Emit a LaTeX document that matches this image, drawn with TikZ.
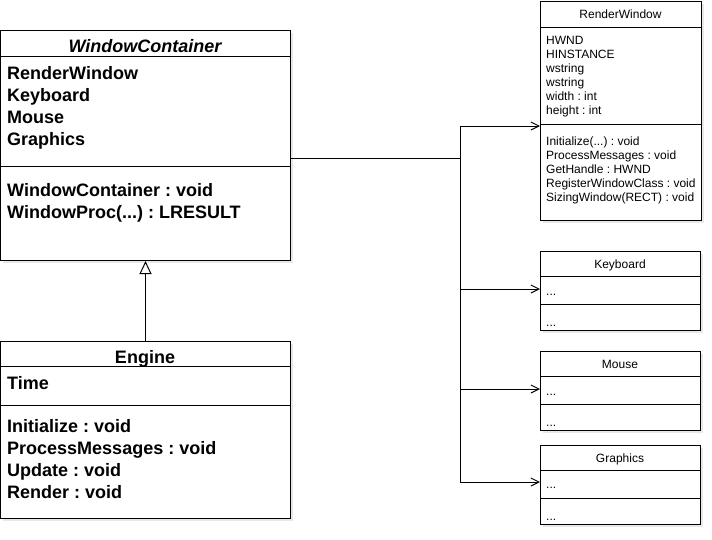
\documentclass[tikz,border=0pt]{standalone}
\usepackage{fontspec}
\setmainfont{Liberation Sans}
\usetikzlibrary{arrows.meta,shadows}
\frenchspacing
\begin{document}
\begin{tikzpicture}[x=1pt,y=-1pt,
  box/.style={draw=black, line width=1pt, fill=white, rectangle, inner sep=0pt, anchor=north west,
    drop shadow={shadow xshift=2.5pt, shadow yshift=-2.5pt, opacity=0.18, fill=gray}},
  sep/.style={draw=black, line width=1pt},
  big/.style={font=\fontsize{18}{21.6}\selectfont\bfseries, inner sep=0pt, anchor=base west},
  bighead/.style={font=\fontsize{18}{21.6}\selectfont\bfseries, inner sep=0pt, anchor=base},
  small/.style={font=\fontsize{12}{14.4}\selectfont, inner sep=0pt, anchor=base west},
  smallhead/.style={font=\fontsize{12}{14.4}\selectfont, inner sep=0pt, anchor=base},
  conn/.style={draw=black, line width=1pt, -{Straight Barb[length=8pt,width=8pt,line width=1pt]}},
  inh/.style={draw=black, line width=1pt, -{Triangle[open,length=13pt,width=12pt,fill=white,line width=1pt]}}
]
\useasboundingbox (0,0) rectangle (712,539);

% ---------- WindowContainer ----------
\node[box, minimum width=290pt, minimum height=230pt] (wc) at (0,30) {};
\draw[sep] (0,56) -- (290,56);
\draw[sep] (0,166) -- (290,166);
\node[bighead, font=\fontsize{18}{21.6}\selectfont\bfseries\itshape] (wct) at (145,52) {WindowContainer};
\node[big] (wca1) at (7,79) {RenderWindow};
\node[big] (wca2) at (7,101) {Keyboard};
\node[big] (wca3) at (7,123) {Mouse};
\node[big] (wca4) at (7,145) {Graphics};
\node[big] (wcm1) at (7,196) {WindowContainer : void};
\node[big] (wcm2) at (7,218) {WindowProc(...) : LRESULT};

% ---------- Engine ----------
\node[box, minimum width=290pt, minimum height=177pt] (eng) at (0,341) {};
\draw[sep] (0,366) -- (290,366);
\draw[sep] (0,405) -- (290,405);
\node[bighead] (engt) at (145,363) {Engine};
\node[big] (enga1) at (7,389) {Time};
\node[big] (engm1) at (7,432) {Initialize : void};
\node[big] (engm2) at (7,454) {ProcessMessages : void};
\node[big] (engm3) at (7,476) {Update : void};
\node[big] (engm4) at (7,498) {Render : void};

% ---------- RenderWindow ----------
\node[box, minimum width=161pt, minimum height=219pt] (rw) at (540,1) {};
\draw[sep] (540,27) -- (701,27);
\draw[sep] (540,124) -- (701,124);
\node[smallhead] (rwt) at (620.5,18) {RenderWindow};
\node[small] (rwa1) at (546,44) {HWND};
\node[small] (rwa2) at (546,58) {HINSTANCE};
\node[small] (rwa3) at (546,72) {wstring};
\node[small] (rwa4) at (546,86) {wstring};
\node[small] (rwa5) at (546,100) {width : int};
\node[small] (rwa6) at (546,114) {height : int};
\node[small] (rwm1) at (546,145) {Initialize(...) : void};
\node[small] (rwm2) at (546,159) {ProcessMessages : void};
\node[small] (rwm3) at (546,173) {GetHandle : HWND};
\node[small] (rwm4) at (546,187) {RegisterWindowClass : void};
\node[small] (rwm5) at (546,201) {SizingWindow(RECT) : void};

% ---------- Keyboard ----------
\node[box, minimum width=160pt, minimum height=79pt] (kb) at (540,251) {};
\draw[sep] (540,276) -- (700,276);
\draw[sep] (540,304) -- (700,304);
\node[smallhead] (kbt) at (620,268) {Keyboard};
\node[small] (kba) at (546,295) {...};
\node[small] (kbm) at (546,326) {...};

% ---------- Mouse ----------
\node[box, minimum width=160pt, minimum height=79pt] (ms) at (540,351) {};
\draw[sep] (540,376) -- (700,376);
\draw[sep] (540,404) -- (700,404);
\node[smallhead] (mst) at (620,368) {Mouse};
\node[small] (msa) at (546,395) {...};
\node[small] (msm) at (546,426) {...};

% ---------- Graphics ----------
\node[box, minimum width=160pt, minimum height=79pt] (gr) at (540,445) {};
\draw[sep] (540,470) -- (700,470);
\draw[sep] (540,498) -- (700,498);
\node[smallhead] (grt) at (620,462) {Graphics};
\node[small] (gra) at (546,488) {...};
\node[small] (grm) at (546,520) {...};

% ---------- connectors ----------
\coordinate (wcout) at (290,158);
\coordinate (bus) at (460,158);
\coordinate (rwin) at (540,126);
\coordinate (kbin) at (540,289);
\coordinate (msin) at (540,389);
\coordinate (grin) at (540,482);
\draw[conn] (wcout) -- (bus) |- (rwin);
\draw[conn] (wcout) -- (bus) |- (kbin);
\draw[conn] (wcout) -- (bus) |- (msin);
\draw[conn] (wcout) -- (bus) |- (grin);

\draw[inh] (eng.north) -- (wc.south);
\end{tikzpicture}
\end{document}
